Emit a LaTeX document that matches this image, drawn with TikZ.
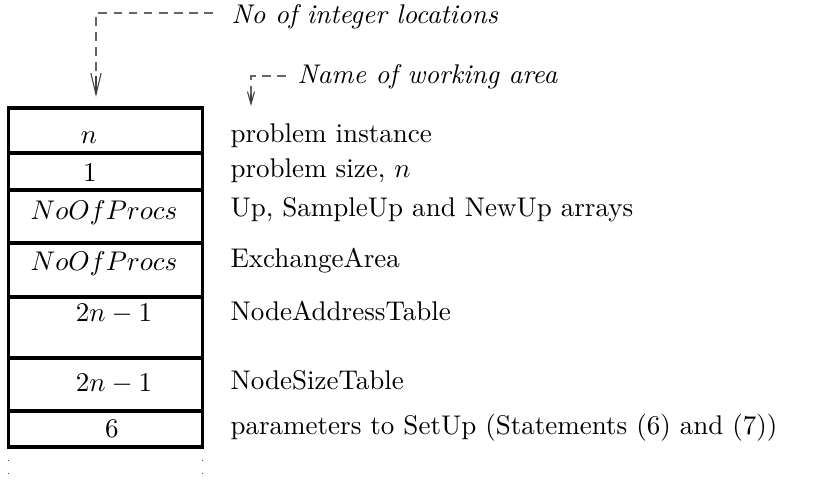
\documentclass[tikz,border=0pt]{standalone}
\usetikzlibrary{arrows.meta}
\begin{document}
\begin{tikzpicture}[x=0.37pt,y=-0.37pt,
  rowbox/.style={draw, line width=1.25pt, inner sep=0pt, outer sep=0pt,
    minimum width=194*0.37pt},
  celltext/.style={inner sep=0pt, anchor=base},
  rowlabel/.style={inner sep=0pt, anchor=base west},
  leader/.style={draw=black!60, line width=0.4pt, dash pattern=on 3.2pt off 2.4pt},
  bigbarb/.style={-{Straight Barb[length=8pt,width=3.8pt,line width=0.4pt]}},
  smallbarb/.style={-{Straight Barb[length=4.6pt,width=2.6pt,line width=0.4pt]}},
  tail/.style={draw=black!70, line width=0.5pt, dash pattern=on 0.5pt off 4.2pt}]
\useasboundingbox (0,0) rectangle (818,486);

% memory layout rows
\node[rowbox, minimum height=45*0.37pt] (r1) at (105.5,130.5) {};
\node[rowbox, minimum height=37*0.37pt] (r2) at (105.5,171.5) {};
\node[rowbox, minimum height=53*0.37pt] (r3) at (105.5,216.5) {};
\node[rowbox, minimum height=54*0.37pt] (r4) at (105.5,270) {};
\node[rowbox, minimum height=61*0.37pt] (r5) at (105.5,327.5) {};
\node[rowbox, minimum height=53*0.37pt] (r6) at (105.5,384.5) {};
\node[rowbox, minimum height=36*0.37pt] (r7) at (105.5,429) {};

% number of integer locations in each row
\node[celltext] (c1) at (89,143) {$n$};
\node[celltext] (c2) at (90,181) {$1$};
\node[celltext] (c3) at (104,219) {$NoOfProcs$};
\node[celltext] (c4) at (104,270) {$NoOfProcs$};
\node[celltext] (c5) at (114,321) {$2n-1$};
\node[celltext] (c6) at (114,391) {$2n-1$};
\node[celltext] (c7) at (112,437) {$6$};

% names of the working areas
\node[rowlabel] (l1) at (230,142) {problem instance};
\node[rowlabel] (l2) at (230,177) {problem size, $n$};
\node[rowlabel] (l3) at (230,216) {Up, SampleUp and NewUp arrays};
\node[rowlabel] (l4) at (230,267) {ExchangeArea};
\node[rowlabel] (l5) at (230,320) {NodeAddressTable};
\node[rowlabel] (l6) at (230,389) {NodeSizeTable};
\node[rowlabel] (l7) at (230,434) {parameters to SetUp (Statements (6) and (7))};

% column headings with their leaders
\node[rowlabel] (h1) at (231,23) {\textit{No of integer locations}};
\node[rowlabel] (h2) at (297,83) {\textit{Name of working area}};

\coordinate (e1) at (213,13);
\coordinate (k1) at (96,13);
\coordinate (m1) at (96,76);
\coordinate (t1) at (96,97);
\coordinate (e2) at (286,76);
\coordinate (k2) at (251,76);
\coordinate (m2) at (251,94);
\coordinate (t2) at (251,106);

\draw[leader] (e1) -- (k1) -- (m1);
\draw[draw=black!75, line width=0.4pt, bigbarb] (m1) -- (t1);
\draw[leader] (e2) -- (k2) -- (m2);
\draw[draw=black!75, line width=0.4pt, smallbarb] (m2) -- (t2);

% the layout continues below
\coordinate (d1) at (8.5,460);
\coordinate (d2) at (8.5,476);
\coordinate (d3) at (202.5,460);
\coordinate (d4) at (202.5,476);
\draw[tail] (d1) -- (d2);
\draw[tail] (d3) -- (d4);
\end{tikzpicture}
\end{document}
